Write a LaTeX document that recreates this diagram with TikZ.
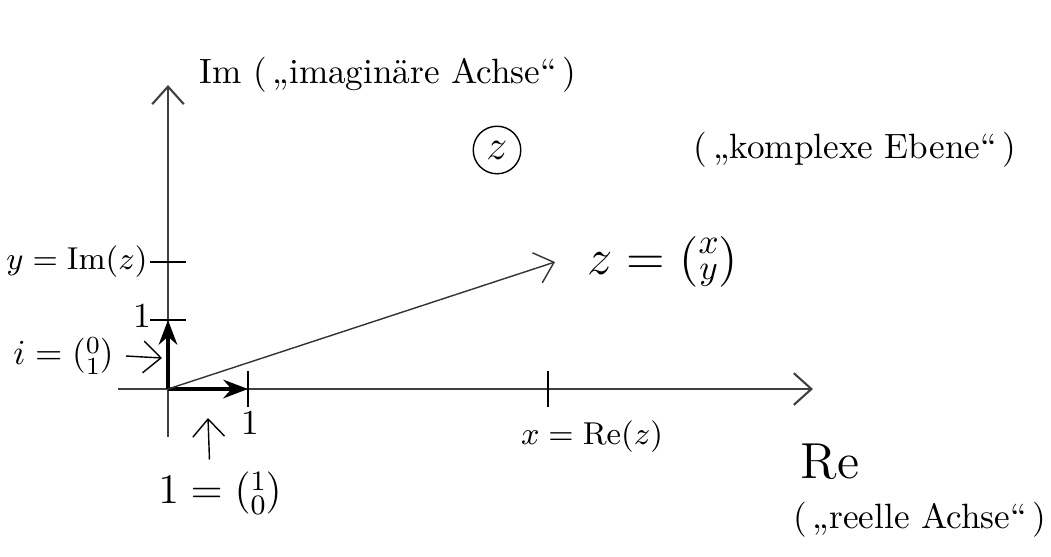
\documentclass[tikz,border=0pt]{standalone}
\usepackage{amsmath}
\usetikzlibrary{arrows.meta,positioning}
\newcommand{\colvec}[2]{\left(\!\begin{smallmatrix} #1\\ #2 \end{smallmatrix}\!\right)}
\begin{document}
\begin{tikzpicture}[>={Straight Barb[length=5pt,width=9pt]},font=\normalsize,
 axis/.style={->,semithick,black!75},
 unitv/.style={-{Stealth[length=7pt]},very thick},
 tickmark/.style={thick},
 note/.style={->,thin}]
\useasboundingbox (0,0) rectangle (10.51,5.56);
% axes
\coordinate (O) at (1.68,1.67);
\coordinate (xw) at (1.18,1.67);
\coordinate (xe) at (8.13,1.67);
\coordinate (ys) at (1.68,1.19);
\coordinate (yn) at (1.68,4.71);
\draw[axis] (xw) -- (xe);
\draw[axis] (ys) -- (yn);
% unit vectors and ticks
\coordinate (e1) at (2.48,1.67);
\coordinate (e2) at (1.68,2.36);
\coordinate (xt) at (5.48,1.67);
\coordinate (yt) at (1.68,2.94);
\coordinate (zp) at (5.55,2.94);
\draw[unitv] (O) -- (e1);
\draw[unitv] (O) -- (e2);
\draw[tickmark] ([yshift=-5pt]e1) -- ([yshift=5pt]e1);
\draw[tickmark] ([xshift=-5pt]e2) -- ([xshift=5pt]e2);
\draw[tickmark] ([yshift=-5pt]xt) -- ([yshift=5pt]xt);
\draw[tickmark] ([xshift=-5pt]yt) -- ([xshift=5pt]yt);
\draw[->,black!80] (O) -- (zp);
% labels
\node (imlab) at (3.88,4.81) {Im (\,„imaginäre Achse“\,)};
\node[draw,circle,inner sep=2pt,font=\large] (zcirc) at (4.97,4.06) {$z$};
\node (ebene) at (8.55,4.06) {(\,„komplexe Ebene“\,)};
\node[anchor=west,font=\Large] (zlab) at (5.75,2.94) {$z = \colvec{x}{y}$};
\node[anchor=east,font=\small] (ylab) at (1.6,2.94) {$y = \mathrm{Im}(z)$};
\node (oney) at (1.42,2.4) {$1$};
\node[anchor=east] (ilab) at (1.26,2.0) {$i = \colvec{0}{1}$};
\coordinate (ia) at (1.62,1.98);
\draw[note] (ilab.east) -- (ia);
\node (onex) at (2.5,1.33) {$1$};
\node[font=\small] (xlab) at (5.92,1.19) {$x = \mathrm{Re}(z)$};
\node[font=\Large] (relab) at (8.3,0.94) {Re};
\node (reelle) at (9.2,0.36) {(\,„reelle Achse“\,)};
\node[font=\large] (onelab) at (2.2,0.63) {$1 = \colvec{1}{0}$};
\coordinate (oa) at (2.08,1.38);
\draw[note] ([xshift=-3pt]onelab.north) -- (oa);
\end{tikzpicture}
\end{document}
